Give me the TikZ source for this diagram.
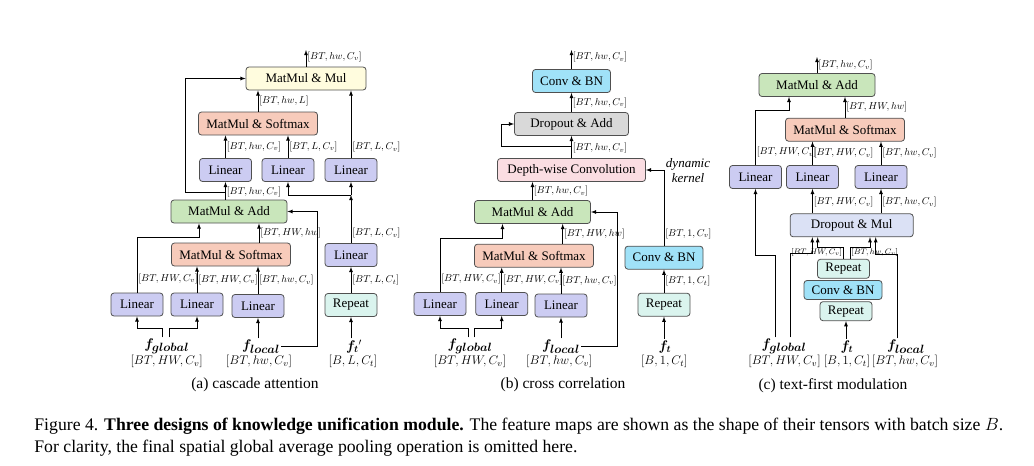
\RequirePackage{fix-cm}
\documentclass[tikz,border=0pt]{standalone}
\usepackage{fontspec}
\setmainfont{Liberation Serif}
\usepackage{bm}

\definecolor{linClr}{RGB}{204,204,242}
\definecolor{sftClr}{RGB}{247,203,187}
\definecolor{addClr}{RGB}{201,230,187}
\definecolor{mulClr}{RGB}{255,252,222}
\definecolor{repClr}{RGB}{218,244,238}
\definecolor{cbnClr}{RGB}{160,226,248}
\definecolor{dropClr}{RGB}{217,217,217}
\definecolor{dwClr}{RGB}{250,221,226}
\definecolor{dmClr}{RGB}{219,225,245}
\definecolor{edgeClr}{RGB}{80,80,80}

\newcommand{\fsub}[1]{$\bm{f}_{\mbox{\fontsize{12}{12}\selectfont$\bm{#1}$}}$}

\tikzset{every node/.style={inner sep=1pt}}
\tikzset{blk/.style={draw=edgeClr,line width=0.8pt,rounded corners=3pt,minimum height=23pt,inner sep=0pt,font=\fontsize{13}{15}\selectfont}}
\tikzset{lin/.style={blk,fill=linClr,minimum width=52pt}}
\tikzset{sft/.style={blk,fill=sftClr,minimum width=119pt}}
\tikzset{addbox/.style={blk,fill=addClr,minimum width=116pt}}
\tikzset{rep/.style={blk,fill=repClr,minimum width=52pt}}
\tikzset{cbn/.style={blk,fill=cbnClr,minimum width=78pt}}
\tikzset{lbl/.style={right,font=\fontsize{10}{11}\selectfont}}
\tikzset{lbls/.style={font=\fontsize{8}{9}\selectfont}}
\tikzset{feat/.style={font=\fontsize{12.5}{14}\selectfont}}
\tikzset{fname/.style={font=\fontsize{14}{15}\selectfont}}
\tikzset{capt/.style={font=\fontsize{15.5}{18}\selectfont}}
\tikzset{figcapt/.style={anchor=west,font=\fontsize{17.7}{20}\selectfont}}

\begin{document}
\begin{tikzpicture}[x=1pt,y=-1pt,line width=0.8pt]
\useasboundingbox (0,0) rectangle (1034,466);

% (a) cascade attention
\node[blk,fill=mulClr,minimum width=120pt] (mulA) at (306,78.5) {MatMul \& Mul};
\node[sft] (smA) at (258,123.5) {MatMul \& Softmax};
\node[lin] (linA1) at (225.5,170) {Linear};
\node[lin] (linA2) at (288,170) {Linear};
\node[lin] (linA3) at (351,170) {Linear};
\node[addbox] (addA) at (229,211.5) {MatMul \& Add};
\node[sft] (smA2) at (231,254.5) {MatMul \& Softmax};
\node[lin] (linA4) at (137,304.5) {Linear};
\node[lin] (linA5) at (197,304.5) {Linear};
\node[lin] (linA6) at (258,306) {Linear};
\node[lin] (linA7) at (351,255) {Linear};
\node[rep] (repA) at (351,305) {Repeat};
\node[fname] (fgA) at (166.7,346.5) {\fsub{global}};
\node[feat] (fgAs) at (166.7,361.5) {$[BT,HW,C_v]$};
\node[fname] (flA) at (261,346.5) {\fsub{local}};
\node[feat] (flAs) at (259,361.5) {$[BT,hw,C_v]$};
\node[fname] (ftA) at (354,346.5) {$\bm{f}_{\bm{t}}{}'$};
\node[feat] (ftAs) at (353,361.5) {$[B,L,C_t]$};

\coordinate (outA) at (306,50);
\coordinate (jA) at (225.5,192);
\coordinate (jA2) at (351,195);
\draw[->,>=latex] (mulA.north) -- node[lbl,pos=0.6] {$[BT,hw,C_v]$} (outA);
\draw[->,>=latex] (smA.north) -- node[lbl] {$[BT,hw,L]$} (smA.north |- mulA.south);
\draw[->,>=latex] (linA1.north) -- node[lbl] {$[BT,hw,C_v]$} (linA1.north |- smA.south);
\draw[->,>=latex] (linA2.north) -- node[lbl] {$[BT,L,C_v]$} (linA2.north |- smA.south);
\draw[->,>=latex] (linA3.north) -- node[lbl,pos=0.16] {$[BT,L,C_v]$} (linA3.north |- mulA.south);
\draw[->,>=latex] (linA1.south |- addA.north) -- node[lbl,pos=0.45] {$[BT,hw,C_v]$} (linA1.south);
\draw[->,>=latex] (jA) -- ++(-40,0) |- (mulA.west);
\draw[->,>=latex] (linA7.north) -- node[lbl,pos=0.2] {$[BT,L,C_v]$} (jA2);
\draw[->,>=latex] (jA2) -- (linA3.south);
\draw[->,>=latex] (jA2) -| (linA2.south);
\draw[->,>=latex] ([xshift=28]smA2.north) -- node[lbl] {$[BT,HW,hw]$} ([xshift=28]smA2.north |- addA.south);
\draw[->,>=latex] (linA4.north) -- node[lbl,pos=0.25] {$[BT,HW,C_v]$} ++(0,-55) -| ([xshift=-30]addA.south);
\draw[->,>=latex] (linA5.north) -- node[lbl] {$[BT,HW,C_v]$} (linA5.north |- smA2.south);
\draw[->,>=latex] (linA6.north) -- node[lbl] {$[BT,hw,C_v]$} (linA6.north |- smA2.south);
\draw[->,>=latex] (repA.north) -- node[lbl] {$[BT,L,C_t]$} (linA7.south);
\draw[->,>=latex] (ftA.north -| repA.south) -- (repA.south);
\draw[->,>=latex] (flA.north -| linA6.south) -- (linA6.south);
\draw[->,>=latex] (flA.east) -- ++(36,0) |- (addA.east);
\draw[->,>=latex] ([xshift=-4]fgA.north) -- ++(0,-9) -| (linA4.south);
\draw[->,>=latex] ([xshift=3]fgA.north) -- ++(0,-9) -| (linA5.south);

% (b) cross correlation
\node[cbn] (cbB) at (571.5,81) {Conv \& BN};
\node[blk,fill=dropClr,minimum width=114pt] (daB) at (571.5,124) {Dropout \& Add};
\node[blk,fill=dwClr,minimum width=148pt] (dwB) at (571.5,170) {Depth-wise Convolution};
\node[addbox] (addB) at (532.5,212) {MatMul \& Add};
\node[sft] (smB) at (534,255.7) {MatMul \& Softmax};
\node[lin] (linB1) at (440,304) {Linear};
\node[lin] (linB2) at (501.7,304) {Linear};
\node[lin] (linB3) at (561,305.5) {Linear};
\node[cbn] (cbB2) at (664,257.7) {Conv \& BN};
\node[rep] (repB) at (664,304.7) {Repeat};
\node[fname] (fgB) at (470,346.5) {\fsub{global}};
\node[feat] (fgBs) at (470,361.5) {$[BT,HW,C_v]$};
\node[fname] (flB) at (561,346.5) {\fsub{local}};
\node[feat] (flBs) at (559.3,361.5) {$[BT,hw,C_v]$};
\node[fname] (ftB) at (665,346.5) {$\bm{f}_{\bm{t}}$};
\node[feat] (ftBs) at (664.3,361.5) {$[B,1,C_t]$};
\node[align=center,font=\fontsize{13}{15}\selectfont\itshape] (dkB) at (688,170.5) {dynamic\\kernel};

\coordinate (outB) at (571.5,50);
\coordinate (jB) at (571.5,146.5);
\draw[->,>=latex] (cbB.north) -- node[lbl,pos=0.63] {$[BT,hw,C_v]$} (outB);
\draw[->,>=latex] (daB.north) -- node[lbl] {$[BT,hw,C_v]$} (cbB.south);
\draw[->,>=latex] (dwB.north) -- node[lbl,pos=0.45] {$[BT,hw,C_v]$} (daB.south);
\draw[->,>=latex] (jB) -- ++(-70,0) |- (daB.west);
\draw[->,>=latex] (addB.north) -- node[lbl] {$[BT,hw,C_v]$} (addB.north |- dwB.south);
\draw[->,>=latex] (cbB2.north) -- node[lbl,pos=0.16] {$[BT,1,C_v]$} (cbB2.north |- dwB.east) -- (dwB.east);
\draw[->,>=latex] ([xshift=28.7]smB.north) -- node[lbl] {$[BT,HW,hw]$} ([xshift=28.7]smB.north |- addB.south);
\draw[->,>=latex] (linB1.north) -- node[lbl,pos=0.24] {$[BT,HW,C_v]$} ++(0,-53.5) -| ([xshift=-30]addB.south);
\draw[->,>=latex] (linB2.north) -- node[lbl] {$[BT,HW,C_v]$} (linB2.north |- smB.south);
\draw[->,>=latex] (linB3.north) -- node[lbl] {$[BT,hw,C_v]$} (linB3.north |- smB.south);
\draw[->,>=latex] (repB.north) -- node[lbl] {$[BT,1,C_t]$} (cbB2.south);
\draw[->,>=latex] (ftB.north -| repB.south) -- (repB.south);
\draw[->,>=latex] (flB.north -| linB3.south) -- (linB3.south);
\draw[->,>=latex] (flB.east) -- ++(36,0) |- (addB.east);
\draw[->,>=latex] ([xshift=-2]fgB.north) -- ++(0,-9) -| (linB1.south);
\draw[->,>=latex] ([xshift=4]fgB.north) -- ++(0,-9) -| (linB2.south);

% (c) text-first modulation
\node[addbox] (addC) at (817,85) {MatMul \& Add};
\node[sft] (smC) at (845,129.7) {MatMul \& Softmax};
\node[lin] (linC1) at (755.5,177) {Linear};
\node[lin] (linC2) at (812.5,177) {Linear};
\node[lin] (linC3) at (881,177) {Linear};
\node[blk,fill=dmClr,minimum width=123pt] (dmC) at (851.7,225.3) {Dropout \& Mul};
\node[rep,minimum height=19pt] (repC1) at (843.5,268.8) {Repeat};
\node[cbn,minimum height=19pt] (cbC) at (843,290) {Conv \& BN};
\node[rep,minimum height=19pt] (repC2) at (846,311.2) {Repeat};
\node[fname] (fgC) at (784,346.5) {\fsub{global}};
\node[feat] (fgCs) at (784.5,361.5) {$[BT,HW,C_v]$};
\node[fname] (ftC) at (847,346.5) {$\bm{f}_{\bm{t}}$};
\node[feat] (ftCs) at (847,361.5) {$[B,1,C_t]$};
\node[fname] (flC) at (906,346.5) {\fsub{local}};
\node[feat] (flCs) at (905,361.5) {$[BT,hw,C_v]$};

\coordinate (outC) at (817,57);
\draw[->,>=latex] (addC.north) -- node[lbl] {$[BT,hw,C_v]$} (outC);
\draw[->,>=latex] (smC.north) -- node[lbl] {$[BT,HW,hw]$} (smC.north |- addC.south);
\draw[->,>=latex] (linC1.north) -- node[lbl,pos=0.23] {$[BT,HW,C_v]$} ++(0,-55) -| ([xshift=-28]addC.south);
\draw[->,>=latex] (linC2.north) -- node[lbl] {$[BT,HW,C_v]$} (linC2.north |- smC.south);
\draw[->,>=latex] (linC3.north) -- node[lbl] {$[BT,hw,C_v]$} (linC3.north |- smC.south);
\draw[->,>=latex] (linC2.south |- dmC.north) -- node[lbl,pos=0.45] {$[BT,HW,C_v]$} (linC2.south);
\draw[->,>=latex] (linC3.south |- dmC.north) -- node[lbl,pos=0.45] {$[BT,hw,C_v]$} (linC3.south);
\draw[->,>=latex] ([xshift=-9]fgC.north) -- ++(0,-82) -| (linC1.south);
\draw[->,>=latex] ([xshift=6]fgC.north) -- ++(0,-84) -| ([xshift=-39.4]dmC.south);
\draw[->,>=latex] ([xshift=-0.2]repC1.north) -- ++(0,-12) node[lbls,anchor=north east] {$[BT,HW,C_v]$} -| ([xshift=-34]dmC.south);
\draw[->,>=latex] ([xshift=6.5]repC1.north) -- ++(0,-12) node[lbls,anchor=north west] {$[BT,hw,C_v]$} -| ([xshift=18.3]dmC.south);
\draw[->,>=latex] ([xshift=-9]flC.north) -- ++(0,-84) -| ([xshift=24]dmC.south);
\draw[->,>=latex] (ftC.north -| repC2.south) -- (repC2.south);

% captions
\node[capt] (capA) at (255,385) {(a) cascade attention};
\node[capt] (capB) at (563,385) {(b) cross correlation};
\node[capt] (capC) at (833,386) {(c) text-first modulation};
\node[figcapt] (figA) at (33,426) {Figure 4. \textbf{Three designs of knowledge unification module.} The feature maps are shown as the shape of their tensors with batch size $B$.};
\node[figcapt] (figB) at (33,448) {For clarity, the final spatial global average pooling operation is omitted here.};

\end{tikzpicture}
\end{document}
